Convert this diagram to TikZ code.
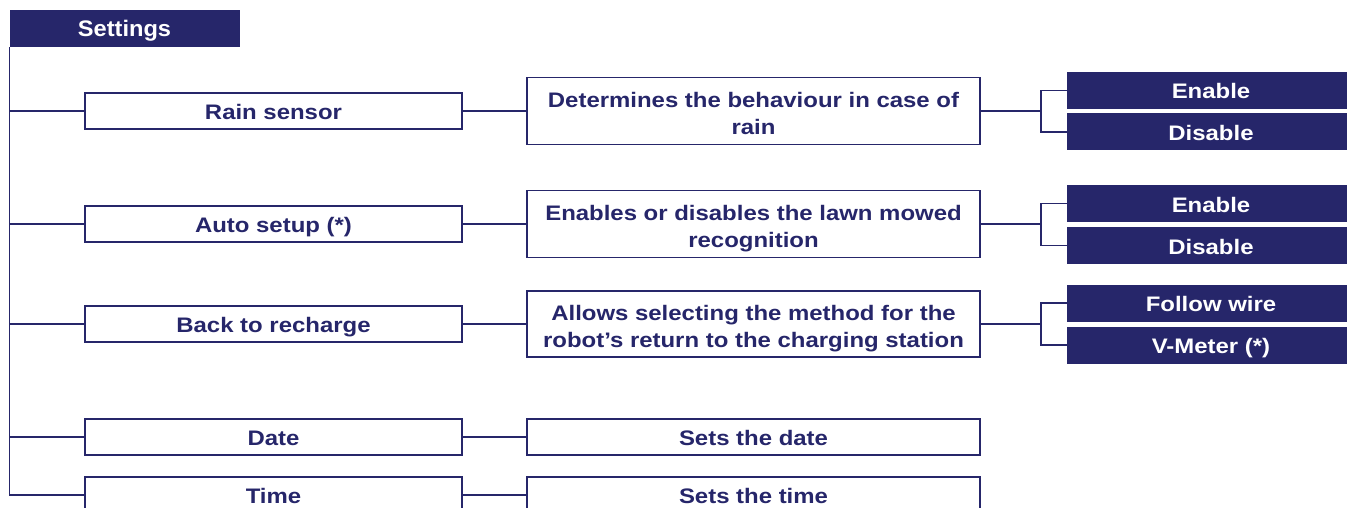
\documentclass[tikz,border=0pt]{standalone}
\usepackage{fontspec}
\setmainfont{Liberation Sans}[FakeStretch=1.14]
\newfontfamily\rootfont{Liberation Sans}[FakeStretch=1.05]
\definecolor{navy}{RGB}{38,38,106}
\begin{document}
\begin{tikzpicture}[x=1pt,y=-1pt,
  every node/.style={font=\bfseries\fontsize{21}{27}\selectfont, text=navy, inner sep=0pt, align=center, text height=17pt, text depth=0pt},
  two/.style={text height=47pt, text depth=0pt},
  wbox/.style={draw=navy, line width=1.5pt, fill=white},
  lbox/.style={wbox, minimum width=377pt, minimum height=36pt},
  mbox/.style={wbox, minimum width=453pt, minimum height=#1},
  dbox/.style={fill=navy, text=white, minimum width=288pt, minimum height=37pt},
  conn/.style={draw=navy, line width=1.6pt}]
\useasboundingbox (0,0) rectangle (1347,508);
% root
\node[fill=navy, text=white, minimum width=230pt, minimum height=37pt, text height=17pt, font=\rootfont\bfseries\fontsize{22.5}{26}\selectfont] (set) at (124.5,28.5) {Settings};
% left boxes
\node[lbox] (rain) at (273.5,111) {Rain sensor};
\node[lbox] (auto) at (273.5,224) {Auto setup (*)};
\node[lbox] (back) at (273.5,324) {Back to recharge};
\node[lbox] (date) at (273.5,437) {Date};
\node[lbox] (time) at (273.5,495) {Time};
% middle boxes
\node[mbox=67pt, two] (rainD) at (753.5,111) {Determines the behaviour in case of\\rain};
\node[mbox=67pt, two] (autoD) at (753.5,224) {Enables or disables the lawn mowed\\recognition};
\node[mbox=66pt, two] (backD) at (753.5,324) {Allows selecting the method for the\\robot’s return to the charging station};
\node[mbox=36pt] (dateD) at (753.5,437) {Sets the date};
\node[mbox=36pt] (timeD) at (753.5,495) {Sets the time};
% right boxes
\node[dbox] (e1) at (1211,90.5) {Enable};
\node[dbox] (d1) at (1211,132) {Disable};
\node[dbox] (e2) at (1211,203.5) {Enable};
\node[dbox] (d2) at (1211,245.5) {Disable};
\node[dbox] (f3) at (1211,303) {Follow wire};
\node[dbox] (v3) at (1211,345) {V-Meter (*)};
% trunk
\draw[conn] (set.south west) -- (set.south west |- time.west) -- (time.west);
\foreach \n in {rain,auto,back,date}{
  \draw[conn] (set.south west |- \n.west) -- (\n.west);
}
% left to middle
\draw[conn] (rain.east) -- (rainD.west);
\draw[conn] (auto.east) -- (autoD.west);
\draw[conn] (back.east) -- (backD.west);
\draw[conn] (date.east) -- (dateD.west);
\draw[conn] (time.east) -- (timeD.west);
% brackets
\path (rainD.east) ++(60,0) coordinate (b1);
\path (autoD.east) ++(60,0) coordinate (b2);
\path (backD.east) ++(60,0) coordinate (b3);
\draw[conn] (rainD.east) -- (b1);
\draw[conn] (e1.west) -| (b1) |- (d1.west);
\draw[conn] (autoD.east) -- (b2);
\draw[conn] (e2.west) -| (b2) |- (d2.west);
\draw[conn] (backD.east) -- (b3);
\draw[conn] (f3.west) -| (b3) |- (v3.west);
\end{tikzpicture}
\end{document}
